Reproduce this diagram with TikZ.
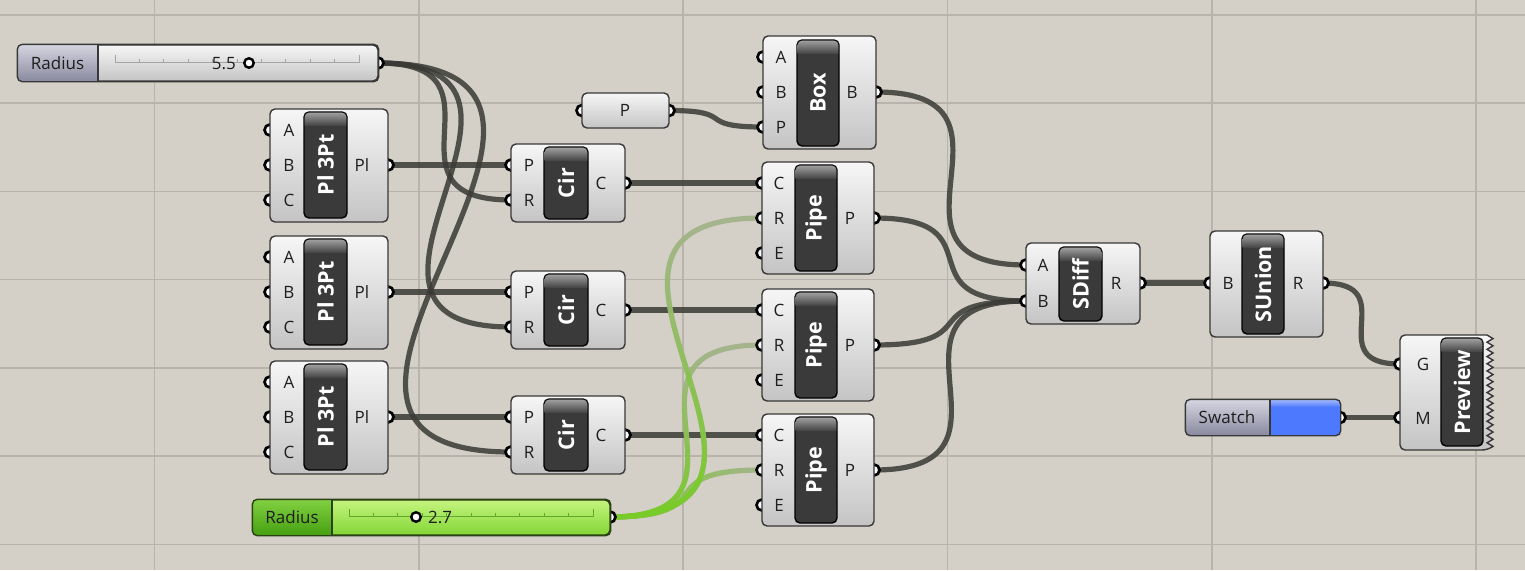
\documentclass[tikz,border=0pt]{standalone}
\usepackage{fontspec}
\setmainfont{Open Sans}
\usetikzlibrary{calc,fit,fadings}
\definecolor{canvas}{HTML}{D4D0C8}
\definecolor{gridc}{HTML}{B8B4AC}
\definecolor{wirec}{HTML}{3A3A36}
\definecolor{bodytop}{HTML}{F6F6F6}
\definecolor{bodybot}{HTML}{C4C4C4}
\definecolor{edge}{HTML}{383838}
\definecolor{lblfill}{HTML}{3A3A3A}
\definecolor{bandtop}{HTML}{A8A8A8}
\definecolor{bandbot}{HTML}{464646}
\definecolor{lavtop}{HTML}{D4D4E0}
\definecolor{lavbot}{HTML}{8A8AA0}
\definecolor{gltop}{HTML}{80D040}
\definecolor{glbot}{HTML}{46A012}
\definecolor{gstop}{HTML}{C4F47E}
\definecolor{gsbot}{HTML}{84D636}
\definecolor{gedge}{HTML}{2A4214}
\definecolor{gtrack}{HTML}{62A830}
\definecolor{palegreen}{HTML}{A4B38C}
\definecolor{brightgreen}{HTML}{78CC28}
\definecolor{swblue}{HTML}{4D79FF}
\definecolor{swband}{HTML}{A0B8FF}
\definecolor{txt}{HTML}{1E1E1E}
\definecolor{track}{HTML}{A4A4A4}

\pgfdeclarelayer{gridlayer}
\pgfdeclarelayer{wirelayer}
\pgfdeclarelayer{griplayer}
\pgfsetlayers{gridlayer,wirelayer,griplayer,main}

\tikzset{
  comp/.style={draw=edge, line width=1.4pt, rounded corners=5pt, top color=bodytop, bottom color=bodybot, inner sep=0pt},
  lblbox/.style={draw=black, line width=1.4pt, rounded corners=5pt, fill=lblfill, inner sep=0pt},
  grip/.style={circle, draw=black, fill=white, line width=2.7pt, minimum size=11pt, inner sep=0pt},
  knob/.style={circle, draw=black, fill=white, line width=2.4pt, minimum size=9.5pt, inner sep=0pt},
  port/.style={font=\fontsize{17}{20}\selectfont, text=txt, inner sep=0pt, text height=12.3pt, text depth=0pt},
  title/.style={font=\fontsize{21.5}{24}\selectfont\bfseries, text=white, rotate=90, inner sep=0pt},
  wire/.style={draw=wirec, line width=5.2pt, draw opacity=0.85},
  edgeline/.style={draw=edge, line width=1.4pt},
}

\newcommand\gbody[5]{\node[comp, fit={({#2},{#3}) ({#4},{#5})}] (#1) {};}
\newcommand\glabel[6]{%
  \node[lblbox, fit={({#2},{#3}) ({#4},{#5})}] (#1) {};
  \begin{scope}
    \clip[rounded corners=4pt] ([shift={(1.4pt,-1.4pt)}]#1.north west) rectangle ([shift={(-1.4pt,1.4pt)}]#1.south east);
    \shade[top color=bandtop, bottom color=bandbot] (#1.north west) rectangle ([yshift=-14pt]#1.north east);
  \end{scope}
  \node[title] (#1-t) at (#1.center) {#6};
}
\newcommand\ggrip[3]{\begin{pgfonlayer}{griplayer}\node[grip] (#1) at ({#2},{#3}) {};\end{pgfonlayer}}
\newcommand\plabel[4]{\node[port] (#1) at ({#2},{#3}) {#4};}
\newcommand\wire[3][]{\begin{pgfonlayer}{wirelayer}\draw[wire,#1] let \p1=(#2.center), \p2=(#3.center), \n1={0.73*veclen(\x2-\x1,\y2-\y1)} in (\p1) .. controls +(\n1,0pt) and +(-\n1,0pt) .. (\p2);\end{pgfonlayer}}

\begin{document}
\begin{tikzpicture}[x=1pt,y=-1pt]
\useasboundingbox (0,0) rectangle (1525,570);
\begin{pgfonlayer}{gridlayer}
  \fill[canvas] (0,0) rectangle (1525,570);
  \foreach \gx in {154.5,418.8,683.1,947.4,1211.7,1476} \draw[gridc,line width=1.6pt] (\gx,0) -- (\gx,570);
  \foreach \gy in {14.7,103,191.3,279.6,367.9,456.2,544.5} \draw[gridc,line width=1.6pt] (0,\gy) -- (1525,\gy);
\end{pgfonlayer}

% ---------- top Radius slider ----------
\gbody{sl1}{18}{45}{378}{81}
\begin{scope}
  \clip[rounded corners=5pt] (sl1.north west) rectangle (sl1.south east);
  \shade[top color=lavtop,bottom color=lavbot] (18,45) rectangle (98,81);
\end{scope}
\draw[edgeline] (98,45) -- (98,81);
\draw[edgeline,rounded corners=5pt] (sl1.north west) rectangle (sl1.south east);
\draw[track,line width=1pt] (115,62.5) -- (359,62.5);
\foreach \i in {1,...,9} \draw[track,line width=1pt] ({115+24.4*\i},62.5) -- ({115+24.4*\i},58.5);
\draw[track,line width=1pt] (115,55) -- (115,62.5) (359,55) -- (359,62.5);
\plabel{sl1-name}{57.5}{63}{Radius}
\node[port,anchor=east] (sl1-val) at (236,63) {5.5};
\node[knob] (sl1-knob) at (249,63) {};
\ggrip{sl1-o}{378}{63}

% ---------- green Radius slider ----------
\node[draw=gedge, line width=1.4pt, rounded corners=5pt, top color=gstop, bottom color=gsbot, inner sep=0pt, fit={(253,500) (610,535)}] (sl2) {};
\begin{scope}
  \clip[rounded corners=5pt] (sl2.north west) rectangle (sl2.south east);
  \shade[top color=gltop,bottom color=glbot] (253,500) rectangle (332,535);
\end{scope}
\draw[gedge,line width=1.4pt] (332,500) -- (332,535);
\draw[gedge,line width=1.4pt,rounded corners=5pt] (sl2.north west) rectangle (sl2.south east);
\draw[gtrack,line width=1pt] (349,516.5) -- (593,516.5);
\foreach \i in {1,...,9} \draw[gtrack,line width=1pt] ({349+24.4*\i},516.5) -- ({349+24.4*\i},512.5);
\draw[gtrack,line width=1pt] (349,509) -- (349,516.5) (593,509) -- (593,516.5);
\plabel{sl2-name}{292}{517}{Radius}
\node[knob] (sl2-knob) at (416,517) {};
\node[port,anchor=west] (sl2-val) at (428,517) {2.7};
\ggrip{sl2-o}{610}{517}

% ---------- P param ----------
\gbody{prm}{582}{93}{669}{128}
\plabel{prm-l}{625}{110.5}{P}
\ggrip{prm-i}{582}{110.5}
\ggrip{prm-o}{669}{110.5}

% ---------- Pl 3Pt, Cir, Pipe rows ----------
\foreach \k/\dy in {1/0,2/127,3/252}{
  \gbody{pl\k}{270}{109+\dy}{388}{222+\dy}
  \glabel{pl\k-lbl}{304}{112+\dy}{347}{218+\dy}{Pl 3Pt}
  \ggrip{pl\k-a}{270}{130+\dy}
  \ggrip{pl\k-b}{270}{165+\dy}
  \ggrip{pl\k-c}{270}{200+\dy}
  \ggrip{pl\k-o}{388}{165+\dy}
  \plabel{pl\k-al}{289}{130+\dy}{A}
  \plabel{pl\k-bl}{289}{165+\dy}{B}
  \plabel{pl\k-cl}{289}{200+\dy}{C}
  \plabel{pl\k-ol}{362}{165+\dy}{Pl}
  %
  \gbody{cir\k}{511}{144+\dy}{625}{222+\dy}
  \glabel{cir\k-lbl}{544}{147+\dy}{588}{219+\dy}{Cir}
  \ggrip{cir\k-p}{511}{165+\dy}
  \ggrip{cir\k-r}{511}{200+\dy}
  \ggrip{cir\k-o}{625}{183+\dy}
  \plabel{cir\k-pl}{529}{165+\dy}{P}
  \plabel{cir\k-rl}{529}{200+\dy}{R}
  \plabel{cir\k-ol}{601}{183+\dy}{C}
  %
  \gbody{pipe\k}{762}{162+\dy}{874}{274+\dy}
  \glabel{pipe\k-lbl}{795}{165+\dy}{837}{271+\dy}{Pipe}
  \ggrip{pipe\k-c}{762}{183+\dy}
  \ggrip{pipe\k-r}{762}{218+\dy}
  \ggrip{pipe\k-e}{762}{253+\dy}
  \ggrip{pipe\k-o}{874}{218+\dy}
  \plabel{pipe\k-cl}{779}{183+\dy}{C}
  \plabel{pipe\k-rl}{779}{218+\dy}{R}
  \plabel{pipe\k-el}{779}{253+\dy}{E}
  \plabel{pipe\k-ol}{850}{218+\dy}{P}
}

% ---------- Box ----------
\gbody{box}{763}{36}{876}{149}
\glabel{box-lbl}{797}{40}{839}{146}{Box}
\ggrip{box-a}{763}{57}
\ggrip{box-b}{763}{92}
\ggrip{box-p}{763}{127}
\ggrip{box-o}{876}{92}
\plabel{box-al}{781}{57}{A}
\plabel{box-bl}{781}{92}{B}
\plabel{box-pl}{781}{127}{P}
\plabel{box-ol}{852}{92}{B}

% ---------- SDiff ----------
\gbody{sd}{1026}{243}{1140}{324}
\glabel{sd-lbl}{1059}{247}{1102}{321}{SDiff}
\ggrip{sd-a}{1026}{265}
\ggrip{sd-b}{1026}{301}
\ggrip{sd-o}{1140}{283}
\plabel{sd-al}{1043}{265}{A}
\plabel{sd-bl}{1043}{301}{B}
\plabel{sd-ol}{1116}{283}{R}

% ---------- SUnion ----------
\gbody{su}{1210}{231}{1323}{337}
\glabel{su-lbl}{1242}{234}{1284}{334}{SUnion}
\ggrip{su-b}{1210}{283}
\ggrip{su-o}{1323}{283}
\plabel{su-bl}{1228}{283}{B}
\plabel{su-ol}{1298}{283}{R}

% ---------- Swatch ----------
\gbody{sw}{1186}{400}{1340}{435}
\begin{scope}
  \clip[rounded corners=5pt] (sw.north west) rectangle (sw.south east);
  \shade[top color=lavtop,bottom color=lavbot] (1186,400) rectangle (1270,435);
  \fill[swblue] (1270,400) rectangle (1340,435);
  \shade[top color=swband,bottom color=swblue] (1270,400) rectangle (1340,407);
\end{scope}
\draw[edgeline] (1270,400) -- (1270,435);
\draw[edgeline,rounded corners=5pt] (sw.north west) rectangle (sw.south east);
\plabel{sw-l}{1227}{417}{Swatch}
\ggrip{sw-o}{1340}{417.5}

% ---------- Preview ----------
\shade[top color=bodytop, bottom color=bodybot, draw=edge, line width=1.4pt]
  (1487,335) [rounded corners=5pt] -- (1400,335) -- (1400,450) -- (1487,450) [sharp corners]
  \foreach \i in {1,...,16} { -- (1493,{450-(\i-0.5)*7.1875}) -- (1487,{450-\i*7.1875}) } -- cycle;
\glabel{pv-lbl}{1441}{338}{1483}{446}{Preview}
\ggrip{pv-g}{1400}{364}
\ggrip{pv-m}{1400}{417.5}
\plabel{pv-gl}{1423}{364}{G}
\plabel{pv-ml}{1423}{418}{M}

% ---------- wires ----------
\wire{sl1-o}{cir1-r}
\wire{sl1-o}{cir2-r}
\wire{sl1-o}{cir3-r}
\foreach \k in {1,2,3}{
  \wire{pl\k-o}{cir\k-p}
  \wire{cir\k-o}{pipe\k-c}
  \wire{pipe\k-o}{sd-b}
}
\wire{prm-o}{box-p}
\wire{box-o}{sd-a}
\wire{sd-o}{su-b}
\wire{su-o}{pv-g}
\wire{sw-o}{pv-m}
% green wires
\wire[draw=palegreen,draw opacity=0.95]{sl2-o}{pipe1-r}
\wire[draw=palegreen,draw opacity=0.95]{sl2-o}{pipe2-r}
\wire[draw=palegreen,draw opacity=0.95]{sl2-o}{pipe3-r}
\wire[draw=brightgreen,draw opacity=1,path fading=north]{sl2-o}{pipe1-r}
\wire[draw=brightgreen,draw opacity=1,path fading=north]{sl2-o}{pipe2-r}
\wire[draw=brightgreen,draw opacity=1,path fading=east]{sl2-o}{pipe3-r}
\end{tikzpicture}
\end{document}
